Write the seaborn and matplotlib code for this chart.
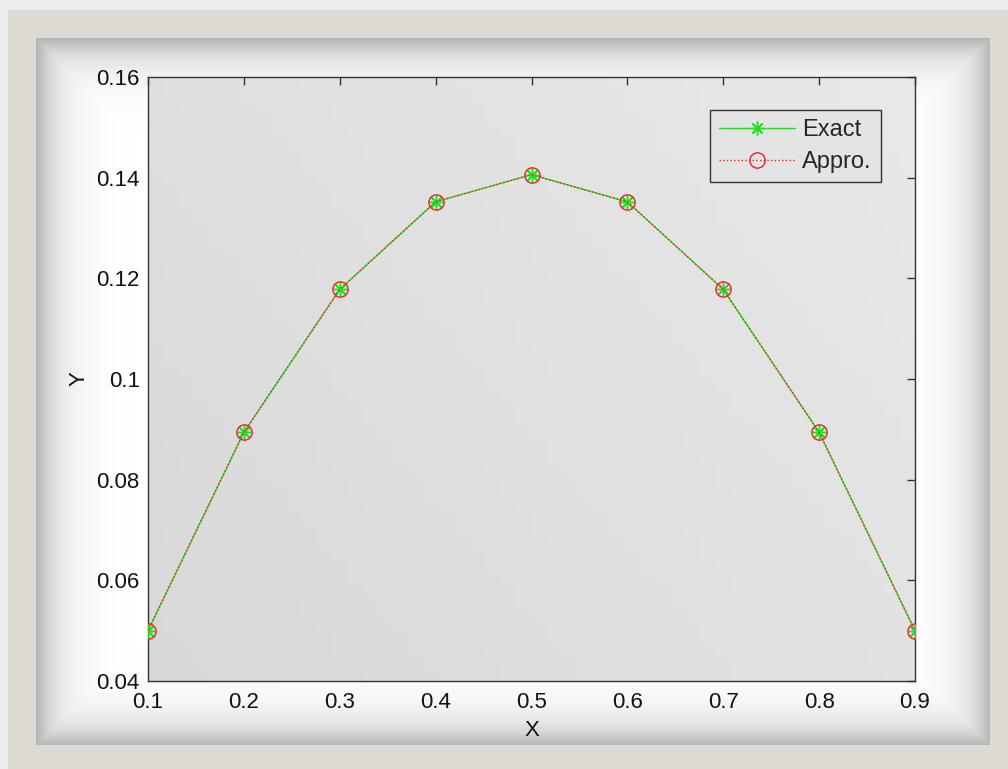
import numpy as np
import pandas as pd
import seaborn as sns
import matplotlib.pyplot as plt
from matplotlib.patches import Rectangle

# data
x_vals = [0.1, 0.2, 0.3, 0.4, 0.5, 0.6, 0.7, 0.8, 0.9]
exact = [0.0500, 0.0894, 0.1178, 0.1352, 0.1406, 0.1352, 0.1178, 0.0894, 0.0500]
approx = [0.0500, 0.0894, 0.1178, 0.1352, 0.1406, 0.1352, 0.1178, 0.0894, 0.0500]
x_ticks = [0.1, 0.2, 0.3, 0.4, 0.5, 0.6, 0.7, 0.8, 0.9]
x_ticklabels = ['0.1', '0.2', '0.3', '0.4', '0.5', '0.6', '0.7', '0.8', '0.9']
y_ticks = [0.04, 0.06, 0.08, 0.10, 0.12, 0.14, 0.16]
y_ticklabels = ['0.04', '0.06', '0.08', '0.1', '0.12', '0.14', '0.16']

df = pd.DataFrame({'X': x_vals, 'Exact': exact, 'Appro.': approx})

sns.set_style('white')
plt.rcParams['font.family'] = ['Liberation Sans', 'DejaVu Sans']

W, H = 1008, 769
fig = plt.figure(figsize=(W / 100, H / 100), dpi=100)
fig.patch.set_facecolor('#ececec')

# picture frame (decoration)
bg = fig.add_axes([0, 0, 1, 1])
bg.axis('off')
bg.add_patch(Rectangle((8, 10), W, H, facecolor='#dcdad3', edgecolor='none', zorder=1))
x0, x1, y0, y1 = 36, 990, 38, 745
xx, yy = np.meshgrid(np.arange(x0, x1), np.arange(y0, y1))
d = np.minimum.reduce([xx - x0, x1 - xx, yy - y0, y1 - yy]).astype(float)
shade = 1 - 0.30 * np.exp(-d / 22.0)
bg.imshow(shade, cmap='gray', vmin=0, vmax=1, extent=(x0, x1, y1, y0),
          aspect='auto', interpolation='bilinear', zorder=2)
bg.set_xlim(0, W)
bg.set_ylim(H, 0)

# main axes
ax = fig.add_axes([148 / W, 1 - 681 / H, (915 - 148) / W, (681 - 77) / H])
gx, gy = np.meshgrid(np.linspace(0, 1, 50), np.linspace(0, 1, 50))
grad = 0.845 + 0.065 * (0.6 * gx + 0.4 * gy)
ax.imshow(grad, cmap='gray', vmin=0, vmax=1, extent=(0, 1, 0, 1),
          transform=ax.transAxes, origin='lower', aspect='auto', zorder=0)

sns.lineplot(data=df, x='X', y='Exact', ax=ax, color='#22dd22', lw=1.0,
             marker=(8, 2, 0), markersize=10, markeredgecolor='#22dd22',
             markeredgewidth=1.0, label='Exact', zorder=3)
sns.lineplot(data=df, x='X', y='Appro.', ax=ax, color='#ee2222', lw=1.0,
             linestyle=':', marker='o', markersize=11, markerfacecolor='none',
             markeredgecolor='#ee2222', markeredgewidth=1.0,
             label='Appro.', zorder=4)

ax.set_xlim(0.1, 0.9)
ax.set_ylim(0.04, 0.16)
ax.set_xticks(x_ticks)
ax.set_xticklabels(x_ticklabels)
ax.set_yticks(y_ticks)
ax.set_yticklabels(y_ticklabels)
ax.tick_params(direction='in', length=6, width=1, color='#333333',
               top=True, right=True, labelsize=16, labelcolor='#111111')
ax.tick_params(axis='x', pad=8)
ax.tick_params(axis='y', pad=6)
for s in ax.spines.values():
    s.set_color('#333333')
    s.set_linewidth(1.0)
ax.set_xlabel('X', fontsize=16, labelpad=5, color='#111111')
ax.set_ylabel('Y', fontsize=16, labelpad=5, color='#111111')

leg = ax.legend(loc='upper right', bbox_to_anchor=(0.9557, 0.9455), fontsize=17,
                frameon=True, fancybox=False, framealpha=1, handlelength=3.2,
                borderpad=0.4, labelspacing=0.4, handletextpad=0.3,
                borderaxespad=0)
leg.get_frame().set_facecolor('#e4e4e4')
leg.get_frame().set_edgecolor('#333333')
leg.get_frame().set_linewidth(1.0)

fig.savefig('out.png', dpi=100)
